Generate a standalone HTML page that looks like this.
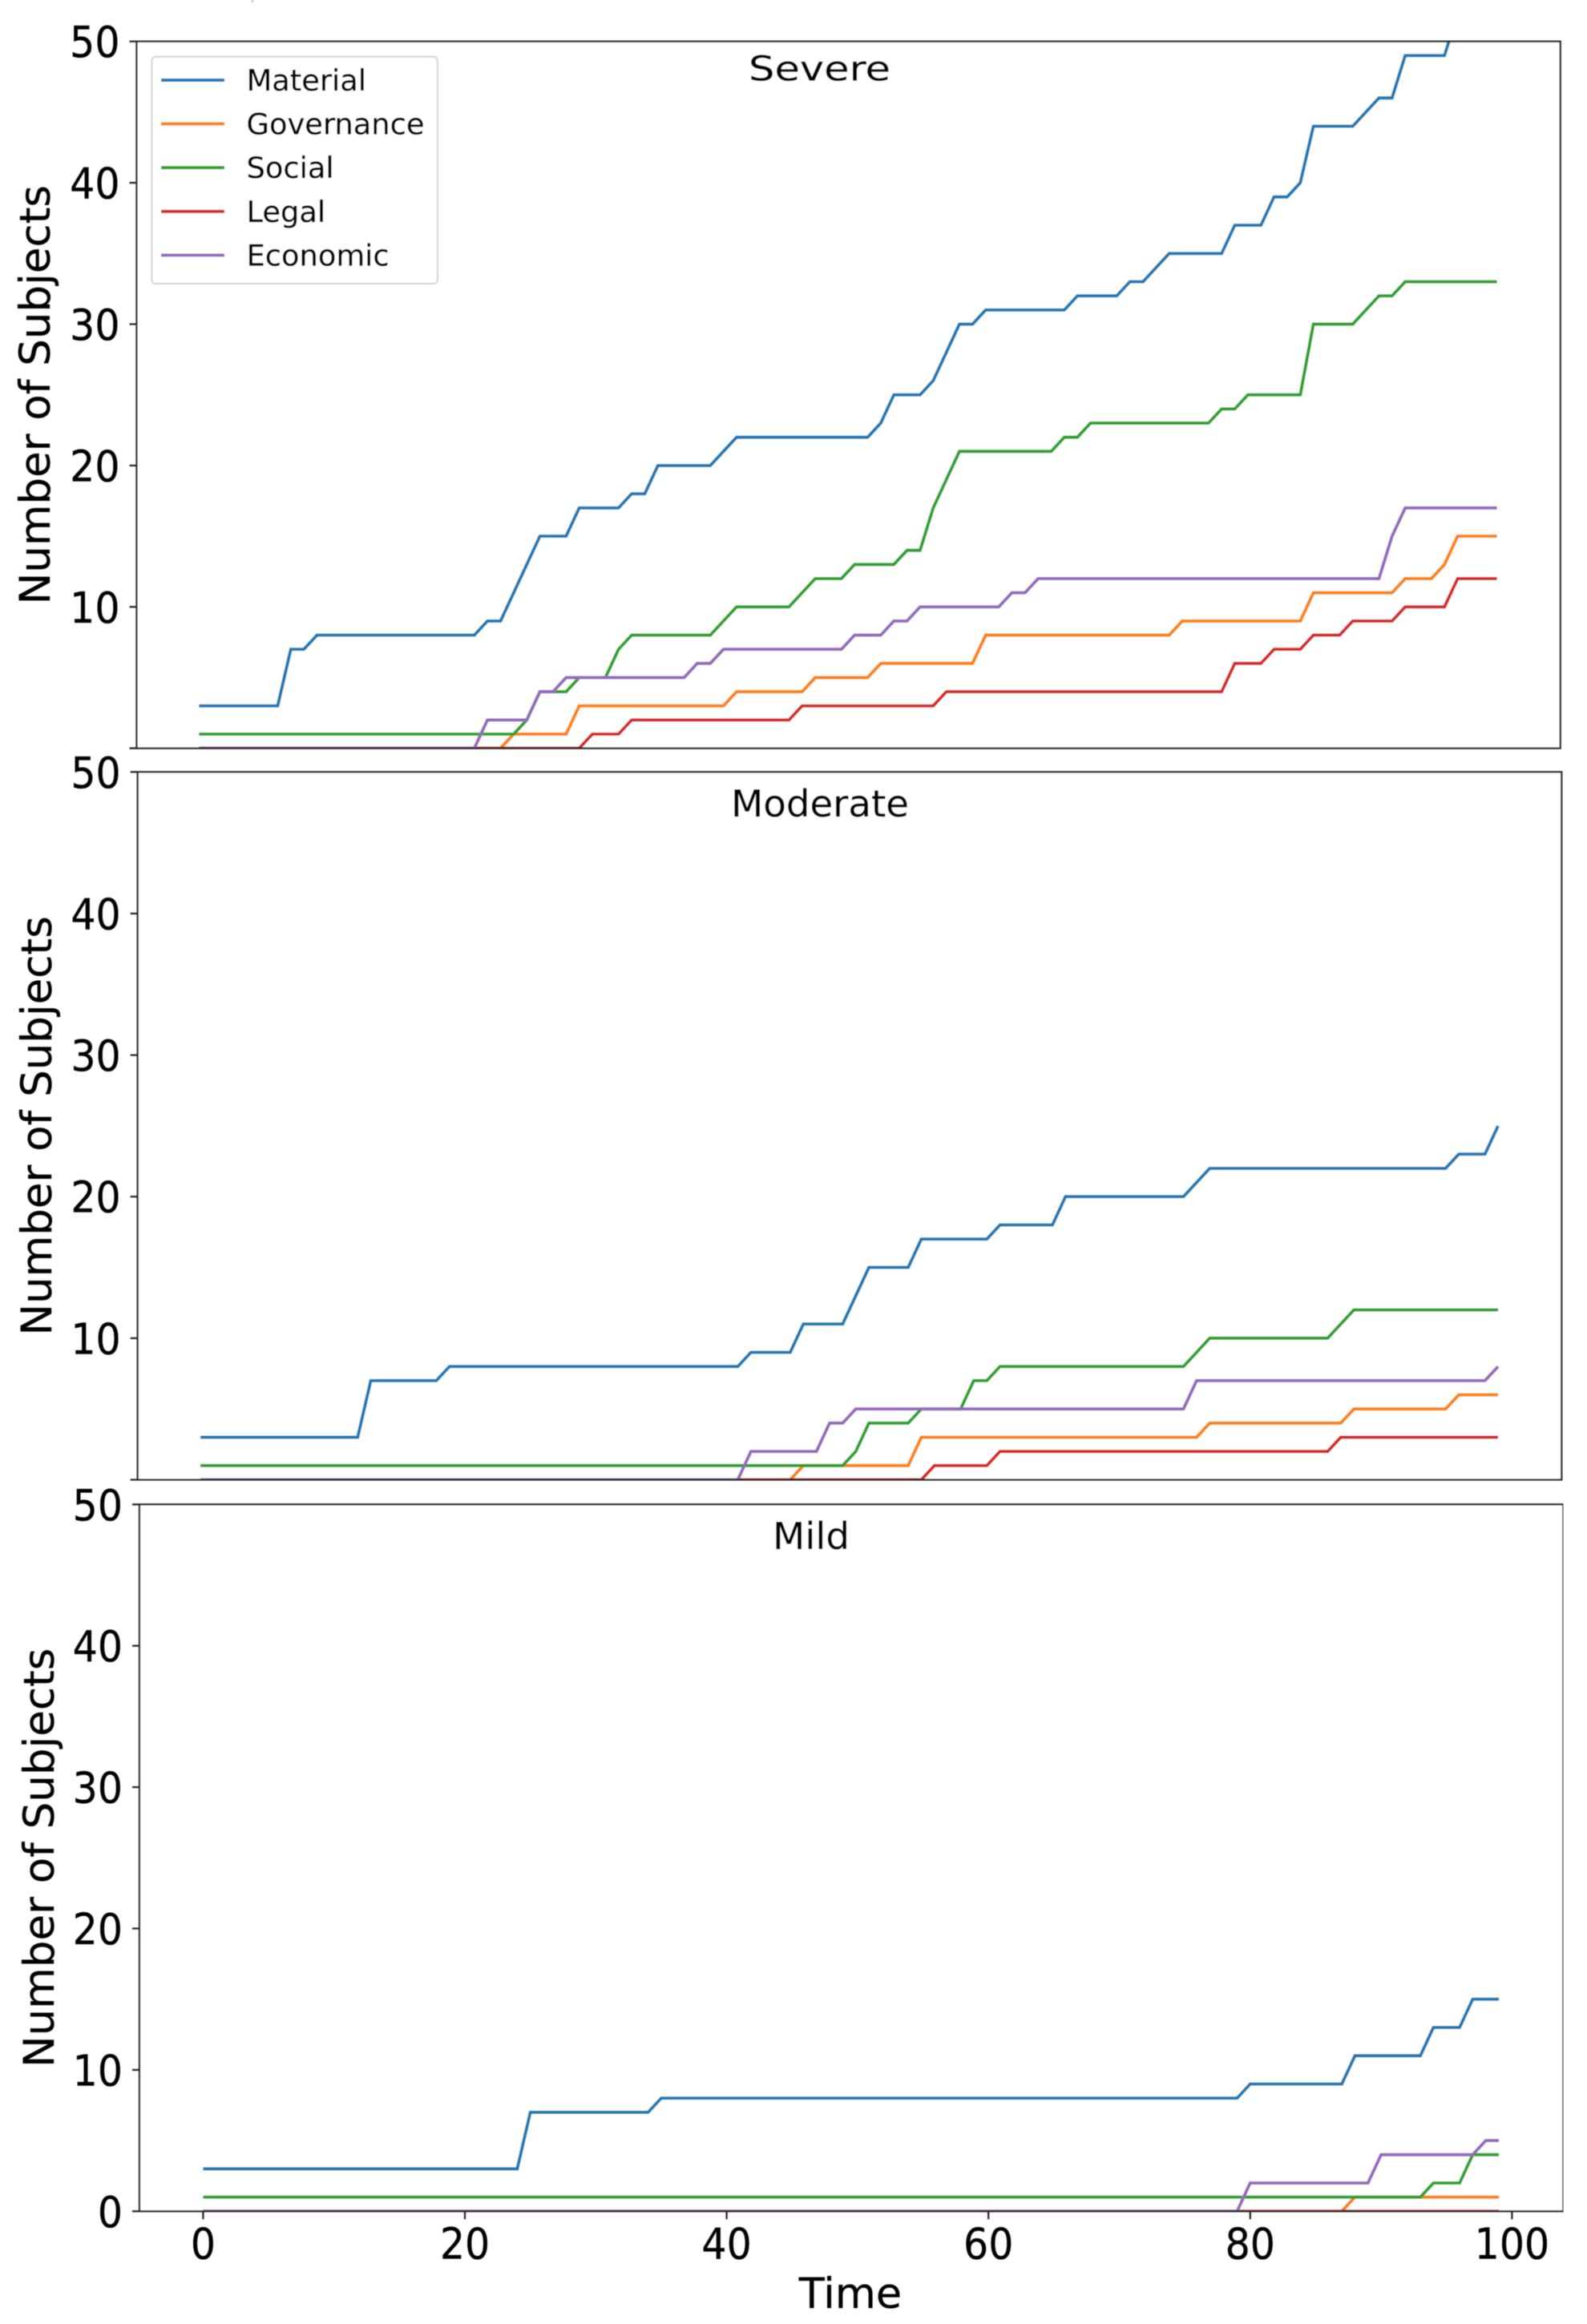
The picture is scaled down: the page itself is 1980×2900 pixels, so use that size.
<!DOCTYPE html>
<html>
<head>
<meta charset="utf-8">
<title>Number of Subjects over Time</title>
<style>
html,body{margin:0;padding:0;background:#fff;}
#chart{display:block;width:1980px;height:2900px;}
text{font-family:"DejaVu Sans","Liberation Sans",sans-serif;fill:#000;stroke:#000;stroke-width:0.3px;}
</style>
</head>
<body>
<svg id="chart" xmlns="http://www.w3.org/2000/svg" width="1980" height="2900" viewBox="0 0 1980 2900">
  <defs>
    <filter id="soft" x="0" y="0" width="100%" height="100%"><feGaussianBlur stdDeviation="0.55"/></filter>
  </defs>
  <g id="root" filter="url(#soft)">
    <rect x="314" y="0" width="2" height="3" fill="#bbb"></rect>
    <rect x="1061" y="1675" width="2" height="3" fill="#ccc"></rect>
  </g>
</svg>
<script>
const timeValues = [0,1,2,3,4,5,6,7,8,9,10,11,12,13,14,15,16,17,18,19,20,21,22,23,24,25,26,27,28,29,30,31,32,33,34,35,36,37,38,39,40,41,42,43,44,45,46,47,48,49,50,51,52,53,54,55,56,57,58,59,60,61,62,63,64,65,66,67,68,69,70,71,72,73,74,75,76,77,78,79,80,81,82,83,84,85,86,87,88,89,90,91,92,93,94,95,96,97,98,99];
const seriesNames = ["Material","Governance","Social","Legal","Economic"];
const yTicks = [0,10,20,30,40,50];
const xTicks = [0,20,40,60,80,100];

const severeMaterial = [3,3,3,3,3,3,3,7,7,8, 8,8,8,8,8,8,8,8,8,8, 8,8,9,9,11,13,15,15,15,17, 17,17,17,18,18,20,20,20,20,20, 21,22,22,22,22,22,22,22,22,22, 22,22,23,25,25,25,26,28,30,30, 31,31,31,31,31,31,31,32,32,32, 32,33,33,34,35,35,35,35,35,37, 37,37,39,39,40,44,44,44,44,45, 46,46,49,49,49,49,52,52,53,53];
const severeGovernance = [0,0,0,0,0,0,0,0,0,0, 0,0,0,0,0,0,0,0,0,0, 0,0,0,0,1,1,1,1,1,3, 3,3,3,3,3,3,3,3,3,3, 3,4,4,4,4,4,4,5,5,5, 5,5,6,6,6,6,6,6,6,6, 8,8,8,8,8,8,8,8,8,8, 8,8,8,8,8,9,9,9,9,9, 9,9,9,9,9,11,11,11,11,11, 11,11,12,12,12,13,15,15,15,15];
const severeSocial = [1,1,1,1,1,1,1,1,1,1, 1,1,1,1,1,1,1,1,1,1, 1,1,1,1,1,2,4,4,4,5, 5,5,7,8,8,8,8,8,8,8, 9,10,10,10,10,10,11,12,12,12, 13,13,13,13,14,14,17,19,21,21, 21,21,21,21,21,21,22,22,23,23, 23,23,23,23,23,23,23,23,24,24, 25,25,25,25,25,30,30,30,30,31, 32,32,33,33,33,33,33,33,33,33];
const severeLegal = [0,0,0,0,0,0,0,0,0,0, 0,0,0,0,0,0,0,0,0,0, 0,0,0,0,0,0,0,0,0,0, 1,1,1,2,2,2,2,2,2,2, 2,2,2,2,2,2,3,3,3,3, 3,3,3,3,3,3,3,4,4,4, 4,4,4,4,4,4,4,4,4,4, 4,4,4,4,4,4,4,4,4,6, 6,6,7,7,7,8,8,8,9,9, 9,9,10,10,10,10,12,12,12,12];
const severeEconomic = [0,0,0,0,0,0,0,0,0,0, 0,0,0,0,0,0,0,0,0,0, 0,0,2,2,2,2,4,4,5,5, 5,5,5,5,5,5,5,5,6,6, 7,7,7,7,7,7,7,7,7,7, 8,8,8,9,9,10,10,10,10,10, 10,10,11,11,12,12,12,12,12,12, 12,12,12,12,12,12,12,12,12,12, 12,12,12,12,12,12,12,12,12,12, 12,15,17,17,17,17,17,17,17,17];

const moderateMaterial = [3,3,3,3,3,3,3,3,3,3, 3,3,3,7,7,7,7,7,7,8, 8,8,8,8,8,8,8,8,8,8, 8,8,8,8,8,8,8,8,8,8, 8,8,9,9,9,9,11,11,11,11, 13,15,15,15,15,17,17,17,17,17, 17,18,18,18,18,18,20,20,20,20, 20,20,20,20,20,20,21,22,22,22, 22,22,22,22,22,22,22,22,22,22, 22,22,22,22,22,22,23,23,23,25];
const moderateGovernance = [0,0,0,0,0,0,0,0,0,0, 0,0,0,0,0,0,0,0,0,0, 0,0,0,0,0,0,0,0,0,0, 0,0,0,0,0,0,0,0,0,0, 0,0,0,0,0,0,1,1,1,1, 1,1,1,1,1,3,3,3,3,3, 3,3,3,3,3,3,3,3,3,3, 3,3,3,3,3,3,3,4,4,4, 4,4,4,4,4,4,4,4,5,5, 5,5,5,5,5,5,6,6,6,6];
const moderateSocial = [1,1,1,1,1,1,1,1,1,1, 1,1,1,1,1,1,1,1,1,1, 1,1,1,1,1,1,1,1,1,1, 1,1,1,1,1,1,1,1,1,1, 1,1,1,1,1,1,1,1,1,1, 2,4,4,4,4,5,5,5,5,7, 7,8,8,8,8,8,8,8,8,8, 8,8,8,8,8,8,9,10,10,10, 10,10,10,10,10,10,10,11,12,12, 12,12,12,12,12,12,12,12,12,12];
const moderateLegal = [0,0,0,0,0,0,0,0,0,0, 0,0,0,0,0,0,0,0,0,0, 0,0,0,0,0,0,0,0,0,0, 0,0,0,0,0,0,0,0,0,0, 0,0,0,0,0,0,0,0,0,0, 0,0,0,0,0,0,1,1,1,1, 1,2,2,2,2,2,2,2,2,2, 2,2,2,2,2,2,2,2,2,2, 2,2,2,2,2,2,2,3,3,3, 3,3,3,3,3,3,3,3,3,3];
const moderateEconomic = [0,0,0,0,0,0,0,0,0,0, 0,0,0,0,0,0,0,0,0,0, 0,0,0,0,0,0,0,0,0,0, 0,0,0,0,0,0,0,0,0,0, 0,0,2,2,2,2,2,2,4,4, 5,5,5,5,5,5,5,5,5,5, 5,5,5,5,5,5,5,5,5,5, 5,5,5,5,5,5,7,7,7,7, 7,7,7,7,7,7,7,7,7,7, 7,7,7,7,7,7,7,7,7,8];

const mildMaterial = [3,3,3,3,3,3,3,3,3,3, 3,3,3,3,3,3,3,3,3,3, 3,3,3,3,3,7,7,7,7,7, 7,7,7,7,7,8,8,8,8,8, 8,8,8,8,8,8,8,8,8,8, 8,8,8,8,8,8,8,8,8,8, 8,8,8,8,8,8,8,8,8,8, 8,8,8,8,8,8,8,8,8,8, 9,9,9,9,9,9,9,9,11,11, 11,11,11,11,13,13,13,15,15,15];
const mildGovernance = [0,0,0,0,0,0,0,0,0,0, 0,0,0,0,0,0,0,0,0,0, 0,0,0,0,0,0,0,0,0,0, 0,0,0,0,0,0,0,0,0,0, 0,0,0,0,0,0,0,0,0,0, 0,0,0,0,0,0,0,0,0,0, 0,0,0,0,0,0,0,0,0,0, 0,0,0,0,0,0,0,0,0,0, 0,0,0,0,0,0,0,0,1,1, 1,1,1,1,1,1,1,1,1,1];
const mildSocial = [1,1,1,1,1,1,1,1,1,1, 1,1,1,1,1,1,1,1,1,1, 1,1,1,1,1,1,1,1,1,1, 1,1,1,1,1,1,1,1,1,1, 1,1,1,1,1,1,1,1,1,1, 1,1,1,1,1,1,1,1,1,1, 1,1,1,1,1,1,1,1,1,1, 1,1,1,1,1,1,1,1,1,1, 1,1,1,1,1,1,1,1,1,1, 1,1,1,1,2,2,2,4,4,4];
const mildLegal = [0,0,0,0,0,0,0,0,0,0, 0,0,0,0,0,0,0,0,0,0, 0,0,0,0,0,0,0,0,0,0, 0,0,0,0,0,0,0,0,0,0, 0,0,0,0,0,0,0,0,0,0, 0,0,0,0,0,0,0,0,0,0, 0,0,0,0,0,0,0,0,0,0, 0,0,0,0,0,0,0,0,0,0, 0,0,0,0,0,0,0,0,0,0, 0,0,0,0,0,0,0,0,0,0];
const mildEconomic = [0,0,0,0,0,0,0,0,0,0, 0,0,0,0,0,0,0,0,0,0, 0,0,0,0,0,0,0,0,0,0, 0,0,0,0,0,0,0,0,0,0, 0,0,0,0,0,0,0,0,0,0, 0,0,0,0,0,0,0,0,0,0, 0,0,0,0,0,0,0,0,0,0, 0,0,0,0,0,0,0,0,0,0, 2,2,2,2,2,2,2,2,2,2, 4,4,4,4,4,4,4,4,5,5];

const severeSeries = [severeMaterial,severeGovernance,severeSocial,severeLegal,severeEconomic];
const moderateSeries = [moderateMaterial,moderateGovernance,moderateSocial,moderateLegal,moderateEconomic];
const mildSeries = [mildMaterial,mildGovernance,mildSocial,mildLegal,mildEconomic];

const seriesColors = ["#1f77b4","#ff7f0e","#2ca02c","#d62728","#9467bd"];
const NS = "http://www.w3.org/2000/svg";
const root = document.getElementById("root");

function makeEl(parent, tag, attrs, content){
  const el = document.createElementNS(NS, tag);
  for (const k in attrs) el.setAttribute(k, attrs[k]);
  if (content !== undefined) el.textContent = content;
  parent.appendChild(el);
  return el;
}
function scaledText(parent, x, y, str, size, anchor, sy){
  return makeEl(parent, "text", {
    transform: "translate(" + x + " " + y + ") scale(1 " + sy + ")",
    "text-anchor": anchor,
    "font-size": size
  }, str);
}

function drawPanel(p){
  const xScale = t => p.x0 + p.unit * t;
  const yScale = v => p.bottom - (p.bottom - p.top) * v / 50;

  const g = makeEl(root, "g", {});
  
  

  const bg = makeEl(g, "rect", {x:p.left, y:p.top, width:p.right-p.left, height:p.bottom-p.top, fill:"#fff"});
  
  

  const clip = makeEl(g, "clipPath", {id:"clip-" + p.key});
  
  
  makeEl(clip, "rect", {x:p.left, y:p.top, width:p.right-p.left, height:p.bottom-p.top});

  p.series.forEach((vals, i) => {
    const pts = vals.map((v, j) => xScale(timeValues[j]).toFixed(2) + "," + yScale(v).toFixed(2)).join(" ");
    const line = makeEl(g, "polyline", {
      points: pts, fill: "none", stroke: seriesColors[i], "stroke-width": 3.9,
      "stroke-linejoin": "miter", "clip-path": "url(#clip-" + p.key + ")"
    });
    
    
  });

  const frame = makeEl(g, "rect", {x:p.left, y:p.top, width:p.right-p.left, height:p.bottom-p.top, fill:"none", stroke:"#222", "stroke-width":2.2});
  
  

  yTicks.forEach(v => {
    const y = yScale(v);
    const tick = makeEl(g, "line", {x1:p.left-9, x2:p.left, y1:y, y2:y, stroke:"#222", "stroke-width":2.2});
    
    
    if (v !== 0 || p.showZero) {
      const lab = scaledText(g, p.left - 21, y + 19.5, String(v), 49, "end", 1.09);
      
      
    }
  });

  const yt = makeEl(g, "text", {
    transform: "translate(" + p.labelX + " " + ((p.top + p.bottom) / 2) + ") rotate(-90)",
    "text-anchor": "middle", "font-size": 53
  }, "Number of Subjects");
  
  

  const title = makeEl(g, "text", {
    x: p.titleX, y: p.titleY, "text-anchor": "middle", "font-size": p.titleSize,
    textLength: p.titleW, lengthAdjust: "spacingAndGlyphs"
  }, p.title);
  
  

  if (p.showX) {
    xTicks.forEach(v => {
      const x = xScale(v);
      const tick = makeEl(g, "line", {x1:x, x2:x, y1:p.bottom, y2:p.bottom+10, stroke:"#222", "stroke-width":2.2});
      
      
      const lab = scaledText(g, x, 2818.5, String(v), 49, "middle", 1.09);
      
      
    });
    const xt = makeEl(g, "text", {x:1061, y:2880, "text-anchor":"middle", "font-size":52.5}, "Time");
    
    
  }
}

drawPanel({key:"severe", title:"Severe", series:severeSeries, left:170.5, right:1946.7, top:51.7, bottom:933.7, x0:248.3, unit:16.357, labelX:62, titleX:1022.5, titleY:100.5, titleSize:43, titleW:177, showX:false, showZero:false});
drawPanel({key:"moderate", title:"Moderate", series:moderateSeries, left:171.7, right:1948.3, top:963.3, bottom:1846.5, x0:250, unit:16.354, labelX:64, titleX:1023, titleY:1019, titleSize:46, titleW:222, showX:false, showZero:false});
drawPanel({key:"mild", title:"Mild", series:mildSeries, left:174, right:1950.4, top:1877.3, bottom:2759.3, x0:253.4, unit:16.33, labelX:67, titleX:1012, titleY:1933, titleSize:46, titleW:96, showX:true, showZero:true});

/* legend */
const legend = makeEl(root, "g", {});


const legendBox = makeEl(legend, "rect", {x:189.4, y:70.7, width:356.5, height:283.3, rx:5, ry:5, fill:"#fff", "fill-opacity":0.8, stroke:"#d2d2d2", "stroke-width":2});


seriesNames.forEach((name, i) => {
  const yLine = 100 + i * 54.6;
  const handle = makeEl(legend, "line", {x1:201, x2:280, y1:yLine, y2:yLine, stroke:seriesColors[i], "stroke-width":3.9});
  
  
  const lab = makeEl(legend, "text", {x:307.5, y:yLine + 13, "font-size":36.8}, name);
  
  
});
</script>
</body>
</html>
